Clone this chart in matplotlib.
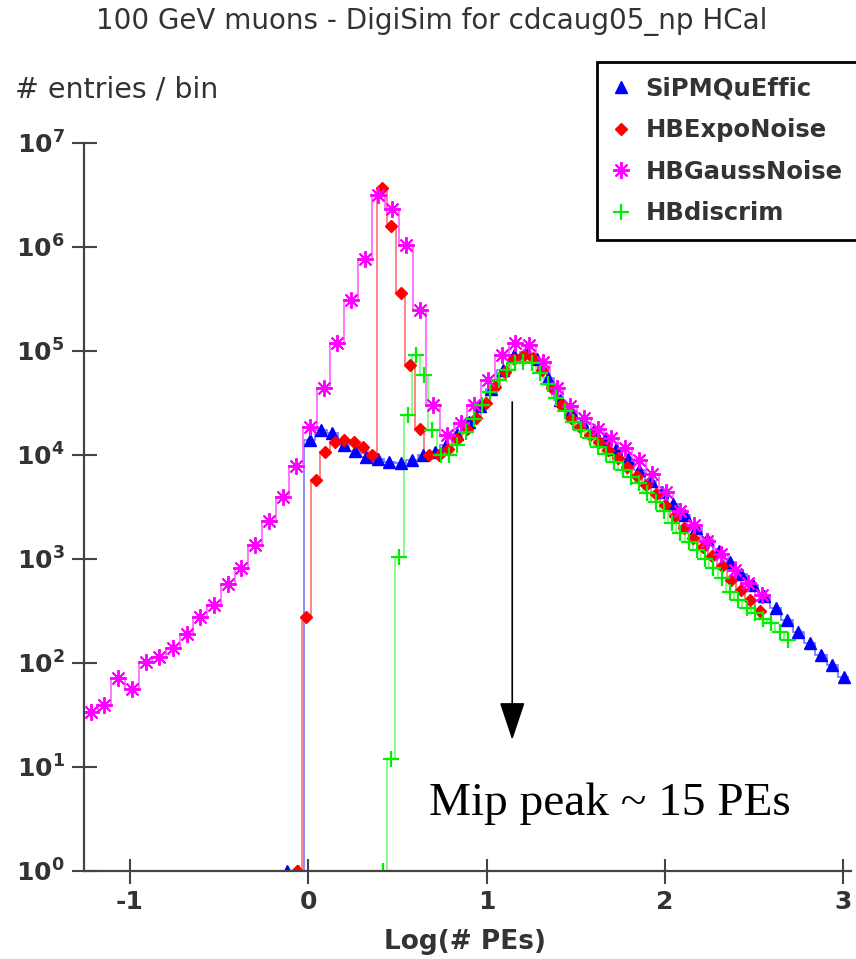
import numpy as np
import matplotlib
matplotlib.use('Agg')
import matplotlib.pyplot as plt
from matplotlib.lines import Line2D
from matplotlib.ticker import FixedLocator, FuncFormatter, NullLocator

plt.rcParams['font.family'] = 'DejaVu Sans'
plt.rcParams['axes.unicode_minus'] = False
plt.rcParams['mathtext.fontset'] = 'custom'
plt.rcParams['mathtext.rm'] = 'DejaVu Sans'
plt.rcParams['mathtext.bf'] = 'DejaVu Sans:bold'

names = ['SiPMQuEffic', 'HBExpoNoise', 'HBGaussNoise', 'HBdiscrim']

# every histogram has 50 bins over its own range: first bin centre, bin width
sipm_first, sipm_width = -0.120, 0.0637
sipm = [1, 1, 14000, 17400, 16200, 12600, 11000, 9500, 9100, 8500,
        8300, 8900, 10000, 10700, 12600, 15800, 20900, 29500, 42700, 66000,
        91000, 98000, 83000, 55000, 34000, 26300, 20900, 17400, 14100, 11500,
        9100, 7200, 5600, 4400, 3400, 2630, 2000, 1550, 1200, 930,
        720, 560, 440, 340, 260, 200, 155, 120, 95, 74]

expo_first, expo_width = -0.0644, 0.05294
expo = [1, 277, 5700, 10700, 13200, 13800, 13200, 12000, 10000, 3700000,
        1600000, 360000, 74000, 17800, 10000, 10000, 11500, 14100, 17800, 22900,
        31600, 44700, 63000, 83000, 91000, 85000, 66000, 43600, 30200, 22900,
        18600, 15500, 13200, 11200, 9300, 7600, 6300, 5100, 4200, 3300,
        2600, 2000, 1600, 1300, 1070, 850, 630, 500, 400, 316]

gauss_first, gauss_width = -1.2202, 0.07681
gauss = [34, 39, 72, 56, 102, 115, 138, 190, 275, 363,
         575, 810, 1350, 2340, 3980, 7900, 18600, 43600, 120000, 309000,
         760000, 3160000, 2340000, 1050000, 250000, 30000, 15500, 20400, 30200, 52500,
         91000, 120000, 115000, 79000, 43600, 29500, 22900, 17800, 14500, 11700,
         8900, 6600, 4400, 2900, 2140, 1480, 1120, 776, 590, 447]

discrim_first, discrim_width = 0.4179, 0.04633
discrim = [1, 12, 1050, 24000, 91000, 59000, 17400, 10000, 10000, 12600,
           16600, 22400, 30200, 40000, 52500, 66000, 76000, 79000, 76000, 62000,
           47900, 35500, 26300, 20900, 17400, 14500, 12000, 10200, 8500, 7100,
           6200, 5400, 4300, 3550, 2900, 2240, 1780, 1450, 1230, 1000,
           810, 660, 480, 400, 340, 300, 263, 240, 200, 166]

fig = plt.figure(figsize=(8.56, 9.59), dpi=100)
ax = fig.add_axes([0.0981, 0.0918, 0.8956, 0.7591])

series = [
    (sipm, sipm_first, sipm_width, '#0000ff', '#7878ff', dict(marker='^', ms=8.5)),
    (expo, expo_first, expo_width, '#ff0000', '#ff7070', dict(marker='D', ms=6)),
    (gauss, gauss_first, gauss_width, '#ff00ff', '#ff60ff', dict(marker=(8, 2, 0), ms=12, mew=1.4)),
    (discrim, discrim_first, discrim_width, '#00ee00', '#70ff70', dict(marker='+', ms=11, mew=1.6)),
]

handles = []
for vals, first, width, mcol, lcol, mk in series:
    vals = np.array(vals, dtype=float)
    n = len(vals)
    centres = first + width * np.arange(n)
    edges = first - width / 2 + width * np.arange(n + 1)
    ax.stairs(vals, edges, baseline=None, color=lcol, lw=1.2)
    ax.vlines(edges[0], 1, vals[0], color=lcol, lw=1.2)
    ax.plot(centres, vals, ls='none', color=mcol, mec=mcol, **mk)
    handles.append(Line2D([], [], ls='none', color=mcol, mec=mcol, **mk))

ax.set_yscale('log')
ax.set_ylim(1, 1e7)
ax.set_xlim(-1.258, 3.04)

for s in ['top', 'right']:
    ax.spines[s].set_visible(False)
for s in ['left', 'bottom']:
    ax.spines[s].set_color('#444444')
    ax.spines[s].set_linewidth(1.6)

ax.xaxis.set_major_locator(FixedLocator([-1, 0, 1, 2, 3]))
ax.yaxis.set_major_locator(FixedLocator([10.0 ** k for k in range(8)]))
ax.yaxis.set_minor_locator(NullLocator())
ax.yaxis.set_major_formatter(FuncFormatter(lambda v, p: r'$\mathbf{10^{%d}}$' % round(np.log10(v))))
ax.tick_params(direction='inout', length=18, width=1.5, color='#444444',
               labelsize=18, labelcolor='#333333', pad=5)
for lab in ax.get_xticklabels():
    lab.set_fontweight('bold')

# arrow to the mip peak
ax.annotate('', xy=(1.143, 10 ** 1.26), xytext=(1.143, 10 ** 4.51),
            arrowprops=dict(arrowstyle='-|>,head_length=1.2,head_width=0.4',
                            mutation_scale=20, color='black', lw=1.2, shrinkA=0, shrinkB=0))
ax.text(1.692, 10 ** 0.538, 'Mip peak ~ 15 PEs', ha='center', va='baseline',
        family='Liberation Serif', fontsize=34, color='black')

leg = ax.legend(handles, names, loc='upper left', mode='expand',
                bbox_to_anchor=(597 / 856, 1 - 240 / 959, 264 / 856, 178 / 959),
                bbox_transform=fig.transFigure, frameon=True, fancybox=False,
                edgecolor='black', framealpha=1, borderaxespad=0, handlelength=0.8,
                handletextpad=0.6, labelspacing=0.72, borderpad=0.6,
                prop=dict(weight='bold', size=17.5))
leg.get_frame().set_linewidth(2)
for t in leg.get_texts():
    t.set_color('#333333')

fig.text(432 / 856, 1 - 22 / 959, '100 GeV muons - DigiSim for cdcaug05_np HCal',
         ha='center', va='center', fontsize=20, color='#333333')
fig.text(15 / 856, 1 - 90 / 959, '# entries / bin', ha='left', va='center',
         fontsize=20.5, color='#333333')
fig.text(465 / 856, 1 - 942 / 959, 'Log(# PEs)', ha='center', va='center',
         fontsize=19, fontweight='bold', color='#333333')

fig.savefig('out.png', dpi=100)
